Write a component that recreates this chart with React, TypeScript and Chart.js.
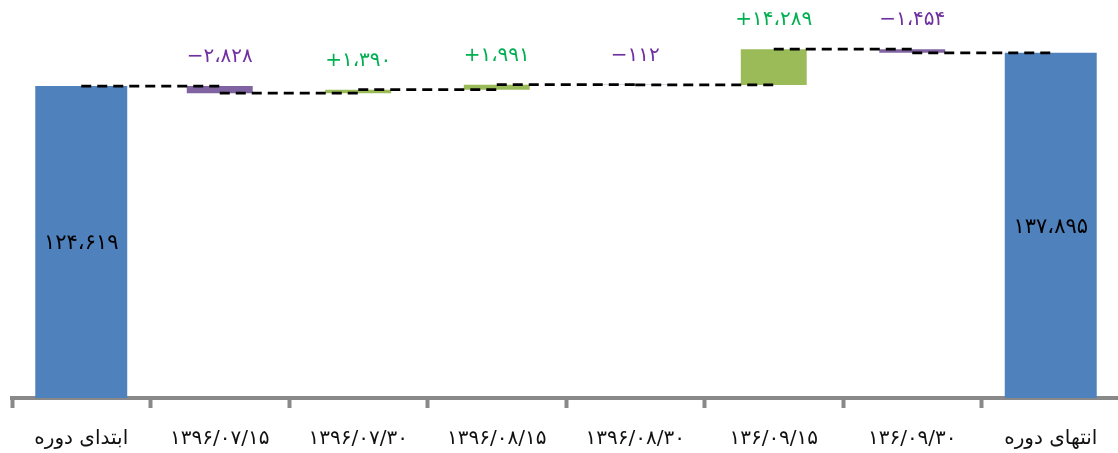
import React, { useEffect, useRef } from "react";
import { Chart, registerables } from "chart.js";

Chart.register(...registerables);

const categories = [
  "ابتدای دوره",
  "۱۳۹۶/۰۷/۱۵",
  "۱۳۹۶/۰۷/۳۰",
  "۱۳۹۶/۰۸/۱۵",
  "۱۳۹۶/۰۸/۳۰",
  "۱۳۶/۰۹/۱۵",
  "۱۳۶/۰۹/۳۰",
  "انتهای دوره",
];
const startValue = 124619;
const changes = [-2828, 1390, 1991, -112, 14289, -1454];
const endValue = 137895;

const BLUE = "#4F81BD";
const GREEN = "#9BBB59";
const PURPLE = "#8064A2";
const GREEN_TEXT = "#00B050";
const PURPLE_TEXT = "#7030A0";
const FONT = "'DejaVu Sans', sans-serif";

const faDigits = "۰۱۲۳۴۵۶۷۸۹";
function toFa(n: number): string {
  const s = Math.abs(n)
    .toString()
    .replace(/\B(?=(\d{3})+(?!\d))/g, "،");
  return s.replace(/\d/g, (d) => faDigits[Number(d)]);
}

// cumulative levels before/after each change
const levels: number[] = [startValue];
changes.forEach((c, i) => levels.push(levels[i] + c));

const totalData: (number | null)[] = categories.map((_, i) =>
  i === 0 ? startValue : i === categories.length - 1 ? endValue : null
);
const upData: ([number, number] | null)[] = categories.map((_, i) => {
  if (i === 0 || i === categories.length - 1) return null;
  const c = changes[i - 1];
  return c >= 0 ? [levels[i - 1], levels[i]] : null;
});
const downData: ([number, number] | null)[] = categories.map((_, i) => {
  if (i === 0 || i === categories.length - 1) return null;
  const c = changes[i - 1];
  return c < 0 ? [levels[i], levels[i - 1]] : null;
});

const waterfallPlugin = {
  id: "waterfallExtras",
  afterDatasetsDraw(chart: any) {
    const { ctx } = chart;
    const x = chart.scales.x;
    const y = chart.scales.y;
    ctx.save();
    // connectors
    ctx.strokeStyle = "#000";
    ctx.lineWidth = 2.8;
    ctx.setLineDash([10, 6]);
    for (let i = 0; i < levels.length; i++) {
      const yy = y.getPixelForValue(levels[i]);
      ctx.beginPath();
      ctx.moveTo(x.getPixelForValue(i), yy);
      ctx.lineTo(x.getPixelForValue(i + 1), yy);
      ctx.stroke();
    }
    ctx.setLineDash([]);
    // change labels
    ctx.font = `20px ${FONT}`;
    ctx.textAlign = "center";
    ctx.textBaseline = "middle";
    changes.forEach((c, i) => {
      const top = Math.max(levels[i], levels[i + 1]);
      const px = x.getPixelForValue(i + 1);
      const py = y.getPixelForValue(top) - 29;
      ctx.fillStyle = c >= 0 ? GREEN_TEXT : PURPLE_TEXT;
      ctx.fillText((c >= 0 ? "+" : "−") + toFa(c), px, py);
    });
    // total labels
    ctx.font = `21px ${FONT}`;
    ctx.fillStyle = "#000";
    [startValue, endValue].forEach((v, k) => {
      const idx = k === 0 ? 0 : categories.length - 1;
      const px = x.getPixelForValue(idx);
      const py = (y.getPixelForValue(v) + y.getPixelForValue(0)) / 2 + 2;
      ctx.fillText(toFa(v), px, py);
    });
    ctx.restore();
  },
};

export default function App() {
  const ref = useRef<HTMLCanvasElement>(null);
  useEffect(() => {
    if (!ref.current) return;
    const chart = new Chart(ref.current, {
      type: "bar",
      data: {
        labels: categories,
        datasets: [
          {
            data: totalData as any,
            backgroundColor: BLUE,
            barPercentage: 0.664,
            categoryPercentage: 1,
            grouped: false,
          },
          {
            data: upData as any,
            backgroundColor: GREEN,
            barPercentage: 0.476,
            categoryPercentage: 1,
            grouped: false,
          },
          {
            data: downData as any,
            backgroundColor: PURPLE,
            barPercentage: 0.476,
            categoryPercentage: 1,
            grouped: false,
          },
        ],
      },
      options: {
        responsive: false,
        animation: false,
        layout: { padding: { left: 12, right: 2, top: 0, bottom: 0 } },
        plugins: { legend: { display: false }, tooltip: { enabled: false } },
        scales: {
          x: {
            offset: true,
            afterFit: (scale: any) => {
              scale.height = 55;
            },
            grid: {
              display: true,
              drawOnChartArea: false,
              offset: true,
              tickLength: 10,
              tickWidth: 4,
              tickColor: "#898989",
              color: "#898989",
            },
            border: { display: true, color: "#898989", width: 4 },
            ticks: {
              color: "#111",
              font: { family: FONT, size: 20 },
              padding: 19,
              maxRotation: 0,
              autoSkip: false,
            },
          },
          y: { display: false, min: 0, max: 159000 },
        },
      },
      plugins: [waterfallPlugin],
    });
    return () => chart.destroy();
  }, []);
  return (
    <div
      style={{
        position: "absolute",
        left: 0,
        top: 0,
        width: 1118,
        height: 453,
        overflow: "hidden",
        background: "#fff",
      }}
    >
      <canvas ref={ref} width={1122} height={453} style={{ width: 1122, height: 453 }} />
    </div>
  );
}
